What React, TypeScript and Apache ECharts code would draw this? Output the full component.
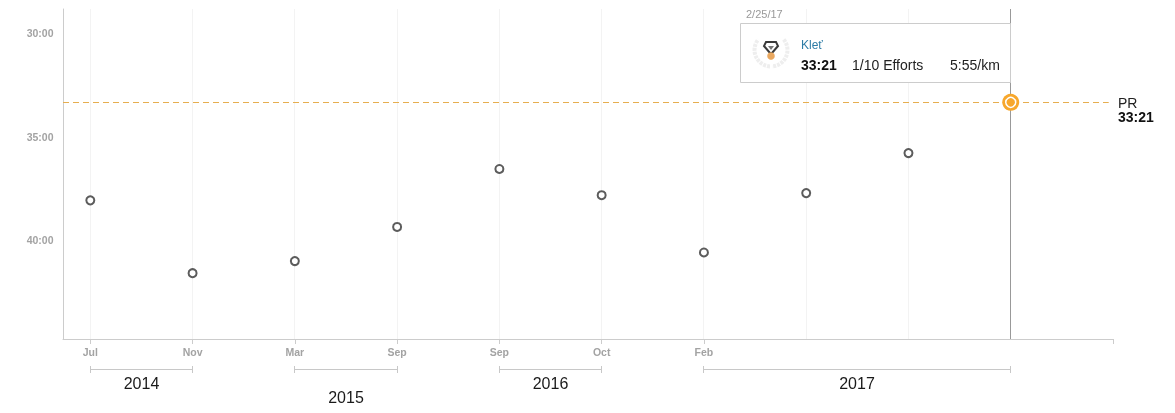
import React, { useEffect, useRef } from "react";
import * as echarts from "echarts";

const monthLabels = ["Jul", "Nov", "Mar", "Sep", "Sep", "Oct", "Feb", "", "", ""];
const effortTimes = ["38:05", "41:36", "41:01", "39:22", "36:34", "37:50", "40:36", "37:44", "35:48"];
const prTime = "33:21";
const prIndex = 9;
const yTicks = [30, 35, 40];
const yearNames = ["2014", "2015", "2016", "2017"];
const yearStarts = [0, 2, 4, 6];
const yearEnds = [1, 3, 5, 9];
const yearLabelY = [383, 397, 383, 383];

const toMinutes = (t: string) => {
  const [m, s] = t.split(":").map(Number);
  return m + s / 60;
};
const FONT = "'Liberation Sans', Arial, sans-serif";
const ORANGE = "#f7a72c";

export default function App() {
  const ref = useRef<HTMLDivElement>(null);
  useEffect(() => {
    document.body.style.margin = "0";
    document.body.style.background = "#fff";
    const chart = echarts.init(ref.current!, undefined, { renderer: "svg" });
    const pr = toMinutes(prTime);
    chart.setOption({
      animation: false,
      textStyle: { fontFamily: FONT },
      grid: { left: 63, right: 62, top: 9, bottom: 74, containLabel: false },
      xAxis: {
        type: "value",
        min: -0.267,
        max: 10.0,
        axisLine: { onZero: false, lineStyle: { color: "#cccccc", width: 1 } },
        axisTick: {
          show: true,
          length: 5,
          lineStyle: { color: "#cccccc" },
          customValues: [0, 1, 2, 3, 4, 5, 6, 10],
        },
        axisLabel: {
          color: "#a3a3a3",
          fontSize: 10.5,
          fontWeight: "bold",
          margin: 7,
          customValues: [0, 1, 2, 3, 4, 5, 6],
          formatter: (v: number) => monthLabels[Math.round(v)] ?? "",
        },
        splitLine: { show: false },
      },
      yAxis: {
        type: "value",
        inverse: true,
        min: 28.84,
        max: 44.78,
        axisLine: { show: true, onZero: false, lineStyle: { color: "#cccccc", width: 1 } },
        axisTick: { show: false, customValues: yTicks },
        axisLabel: {
          color: "#a3a3a3",
          fontSize: 10.5,
          fontWeight: "bold",
          margin: 9.5,
          customValues: yTicks,
          formatter: (v: number) => `${v}:00`,
        },
        splitLine: { show: false },
      },
      series: [
        {
          type: "custom",
          silent: true,
          z: 1,
          data: monthLabels.map((_, i) => [i]),
          encode: { x: 0 },
          renderItem: (params: any, api: any) => {
            const i = api.value(0);
            const x = Math.floor(api.coord([i, pr])[0]) + 0.5;
            const active = i === prIndex;
            return {
              type: "line",
              shape: { x1: x, y1: 9, x2: x, y2: 339 },
              style: { stroke: active ? "#999999" : "#f3f3f3", lineWidth: 1 },
              z2: active ? 3 : 1,
            };
          },
        },
        {
          type: "custom",
          silent: true,
          z: 2,
          data: yearNames.map((_, i) => [yearStarts[i], yearEnds[i], i]),
          encode: { x: [0, 1] },
          renderItem: (params: any, api: any) => {
            const i = api.value(2);
            const x1 = Math.floor(api.coord([api.value(0), pr])[0]) + 0.5;
            const x2 = Math.floor(api.coord([api.value(1), pr])[0]) + 0.5;
            const s = { stroke: "#c8c8c8", lineWidth: 1 };
            return {
              type: "group",
              children: [
                { type: "line", shape: { x1, y1: 369.5, x2, y2: 369.5 }, style: s },
                { type: "line", shape: { x1, y1: 366, x2: x1, y2: 373 }, style: s },
                { type: "line", shape: { x1: x2, y1: 366, x2, y2: 373 }, style: s },
                {
                  type: "text",
                  style: {
                    text: yearNames[i],
                    x: (x1 + x2) / 2,
                    y: yearLabelY[i],
                    align: "center",
                    verticalAlign: "middle",
                    fontSize: 16,
                    fontFamily: FONT,
                    fill: "#1a1a1a",
                  },
                },
              ],
            };
          },
        },
        {
          type: "scatter",
          z: 5,
          symbolSize: 8,
          itemStyle: { color: "#ffffff", borderColor: "#5c5c5c", borderWidth: 2, opacity: 1 },
          data: effortTimes.map((t, i) => [i, toMinutes(t)]),
          markLine: {
            silent: true,
            symbol: "none",
            label: { show: false },
            lineStyle: { color: "#e6ae50", type: [6, 4], width: 1 },
            data: [[{ coord: [-0.267, pr] }, { coord: [9.958, pr] }]],
          },
        },
        {
          type: "scatter",
          z: 6,
          symbolSize: 17,
          itemStyle: { color: ORANGE, opacity: 1 },
          data: [[prIndex, pr]],
        },
        {
          type: "scatter",
          z: 7,
          symbolSize: 10,
          itemStyle: { color: ORANGE, borderColor: "#ffffff", borderWidth: 1.5, opacity: 1 },
          data: [[prIndex, pr]],
        },
      ],
      graphic: [
        {
          type: "text",
          z: 20,
          style: { text: "2/25/17", x: 746, y: 8, fontSize: 11, fontFamily: FONT, fill: "#999999" },
        },
        {
          type: "rect",
          z: 20,
          shape: { x: 740.5, y: 23.5, width: 270, height: 59 },
          style: { fill: "#ffffff", stroke: "#cccccc", lineWidth: 1 },
        },
        {
          type: "group",
          z: 21,
          children: [
            { type: "arc", z: 21, shape: { cx: 771, cy: 50, r: 16.5, startAngle: Math.PI * 0.52, endAngle: Math.PI * 1.22 }, style: { stroke: "#eeeeee", lineWidth: 4, fill: "none", lineDash: [3, 1] } },
            { type: "arc", z: 21, shape: { cx: 771, cy: 50, r: 16.5, startAngle: -Math.PI * 0.22, endAngle: Math.PI * 0.48 }, style: { stroke: "#eeeeee", lineWidth: 4, fill: "none", lineDash: [3, 1] } },
            { type: "polygon", z: 22, shape: { points: [[766, 42], [776, 42], [778, 46], [772, 53], [770, 53], [764, 46]] }, style: { fill: "none", stroke: "#3a3a3a", lineWidth: 2 } },
            { type: "polygon", z: 22, shape: { points: [[768, 46], [774, 46], [771, 50]] }, style: { fill: "#777777" } },
            { type: "circle", z: 23, shape: { cx: 771, cy: 56, r: 3.8 }, style: { fill: "#e9a860" } },
          ],
        },
        {
          type: "text",
          z: 21,
          style: { text: "Kleť", x: 801, y: 39, fontSize: 12, fontFamily: FONT, fill: "#2e7ca6" },
        },
        {
          type: "text",
          z: 21,
          style: { text: "33:21", x: 801, y: 57.5, fontSize: 14, fontWeight: "bold", fontFamily: FONT, fill: "#111111" },
        },
        {
          type: "text",
          z: 21,
          style: { text: "1/10 Efforts", x: 852, y: 57.5, fontSize: 14, fontFamily: FONT, fill: "#222222" },
        },
        {
          type: "text",
          z: 21,
          style: { text: "5:55/km", x: 950, y: 57.5, fontSize: 14, fontFamily: FONT, fill: "#222222" },
        },
        {
          type: "text",
          z: 21,
          style: { text: "PR", x: 1118, y: 96, fontSize: 14, fontFamily: FONT, fill: "#222222" },
        },
        {
          type: "text",
          z: 21,
          style: { text: prTime, x: 1118, y: 110, fontSize: 14, fontWeight: "bold", fontFamily: FONT, fill: "#111111" },
        },
      ],
    });
    return () => chart.dispose();
  }, []);
  return <div ref={ref} style={{ position: "fixed", left: 0, top: 0, width: 1175, height: 413 }} />;
}
